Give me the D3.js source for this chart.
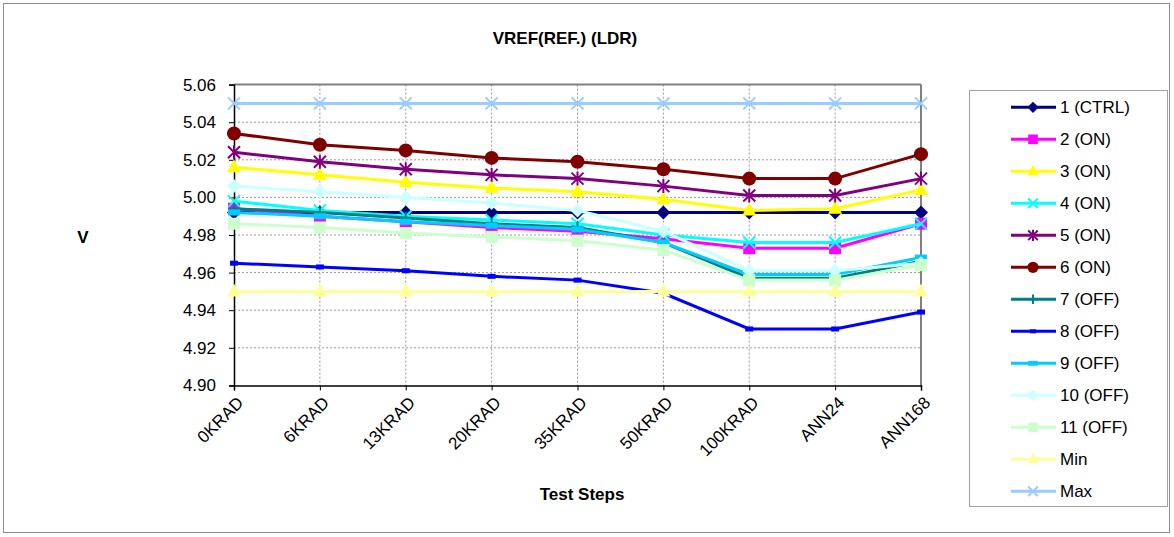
<!DOCTYPE html>
<html><head><meta charset="utf-8">
<script src="https://cdn.jsdelivr.net/npm/d3@7"></script>
<style>body{margin:0;background:#fff}svg{display:block;font-family:Arial,"Liberation Sans",sans-serif}</style>
</head><body><svg id="c" width="1174" height="537"></svg>
<script>
const categories = ["0KRAD","6KRAD","13KRAD","20KRAD","35KRAD","50KRAD","100KRAD","ANN24","ANN168"];
const yTicks = [4.90,4.92,4.94,4.96,4.98,5.00,5.02,5.04,5.06];
const seriesNames = ["1 (CTRL)","2 (ON)","3 (ON)","4 (ON)","5 (ON)","6 (ON)","7 (OFF)","8 (OFF)","9 (OFF)","10 (OFF)","11 (OFF)","Min","Max"];
const s1  = [4.992,4.992,4.992,4.992,4.992,4.992,4.992,4.992,4.992];
const s2  = [4.994,4.990,4.987,4.984,4.982,4.978,4.973,4.973,4.986];
const s3  = [5.016,5.012,5.008,5.005,5.003,4.999,4.993,4.994,5.004];
const s4  = [4.998,4.993,4.990,4.988,4.986,4.980,4.976,4.976,4.986];
const s5  = [5.024,5.019,5.015,5.012,5.010,5.006,5.001,5.001,5.010];
const s6  = [5.034,5.028,5.025,5.021,5.019,5.015,5.010,5.010,5.023];
const s7  = [4.994,4.992,4.989,4.986,4.984,4.976,4.957,4.957,4.966];
const s8  = [4.965,4.963,4.961,4.958,4.956,4.949,4.930,4.930,4.939];
const s9  = [4.992,4.990,4.987,4.985,4.983,4.976,4.959,4.959,4.968];
const s10 = [5.006,5.003,5.000,4.997,4.993,4.982,4.961,4.961,4.965];
const s11 = [4.986,4.984,4.981,4.979,4.977,4.972,4.956,4.956,4.964];
const sMin = [4.95,4.95,4.95,4.95,4.95,4.95,4.95,4.95,4.95];
const sMax = [5.05,5.05,5.05,5.05,5.05,5.05,5.05,5.05,5.05];
const seriesValues = [s1,s2,s3,s4,s5,s6,s7,s8,s9,s10,s11,sMin,sMax];
const colors = ["#000080","#FF00FF","#FFFF00","#00FFFF","#800080","#800000","#008080","#0000FF","#00CCFF","#CCFFFF","#CCFFCC","#FFFF99","#99CCFF"];
const markers = ["diamond","square","triangle","x","star","circle","plus","dash","bar","diamond","square","triangle","x"];

const svg = d3.select("#c");
const L = 234, R = 921, T = 84.6, B = 385.4;
const FS = 17;
const x = d3.scalePoint().domain(categories).range([L, R]);
const y = d3.scaleLinear().domain([4.90, 5.06]).range([B, T]);

svg.append("rect").attr("x",3.5).attr("y",3.5).attr("width",1166).attr("height",529)
  .attr("fill","#fff").attr("stroke","#8c8c8c");

const g = svg.append("g");
g.selectAll(".hg").data(yTicks.slice(1,-1)).enter().append("line")
  .attr("x1",L).attr("x2",R).attr("y1",d=>y(d)).attr("y2",d=>y(d))
  .attr("stroke","#999").attr("stroke-dasharray","2,2");
g.selectAll(".vg").data(categories.slice(1,-1)).enter().append("line")
  .attr("x1",d=>x(d)).attr("x2",d=>x(d)).attr("y1",T).attr("y2",B)
  .attr("stroke","#999").attr("stroke-dasharray","2,2");
svg.append("line").attr("x1",L).attr("x2",R).attr("y1",T).attr("y2",T).attr("stroke","#808080").attr("stroke-width",2);
svg.append("line").attr("x1",R).attr("x2",R).attr("y1",T).attr("y2",B).attr("stroke","#808080").attr("stroke-width",2);

const yAxis = d3.axisLeft(y).tickValues(yTicks).tickFormat(d3.format(".2f")).tickSize(5).tickPadding(13);
const ya = svg.append("g").attr("transform",`translate(${L},0)`).call(yAxis);
ya.select(".domain").attr("stroke","#000").attr("stroke-width",1.5);
ya.selectAll("text").attr("font-size",FS).attr("fill","#000").attr("font-family","Arial, Liberation Sans, sans-serif");
const xAxis = d3.axisBottom(x).tickSize(5).tickFormat("");
const xa = svg.append("g").attr("transform",`translate(0,${B})`).call(xAxis);
xa.select(".domain").attr("stroke","#000").attr("stroke-width",1.5);
svg.append("g").selectAll("text").data(categories).enter().append("text")
  .attr("transform",d=>`translate(${x(d)+2},${B+10}) rotate(-45)`)
  .attr("text-anchor","end").attr("dy","0.7em").attr("font-size",FS).text(d=>d);

svg.append("text").attr("x",565).attr("y",44).attr("text-anchor","middle").attr("font-weight","bold").attr("font-size",FS).text("VREF(REF.) (LDR)");
svg.append("text").attr("x",582).attr("y",500).attr("text-anchor","middle").attr("font-weight","bold").attr("font-size",FS).text("Test Steps");
svg.append("text").attr("x",83).attr("y",243).attr("text-anchor","middle").attr("font-weight","bold").attr("font-size",FS).text("V");

function drawMarker(sel, type, color, cx, cy, s) {
  s = s || 1;
  if (type === "diamond") sel.append("path").attr("d",`M${cx},${cy-7*s}L${cx+7*s},${cy}L${cx},${cy+7*s}L${cx-7*s},${cy}Z`).attr("fill",color);
  else if (type === "square") sel.append("rect").attr("x",cx-6*s).attr("y",cy-6*s).attr("width",12*s).attr("height",12*s).attr("fill",color);
  else if (type === "triangle") sel.append("path").attr("d",`M${cx},${cy-8*s}L${cx+7*s},${cy+5*s}L${cx-7*s},${cy+5*s}Z`).attr("fill",color);
  else if (type === "circle") sel.append("circle").attr("cx",cx).attr("cy",cy).attr("r",7*s).attr("fill",color);
  else if (type === "x") sel.append("path").attr("d",`M${cx-6*s},${cy-6*s}L${cx+6*s},${cy+6*s}M${cx-6*s},${cy+6*s}L${cx+6*s},${cy-6*s}`).attr("stroke",color).attr("stroke-width",2);
  else if (type === "star") sel.append("path").attr("d",`M${cx-6*s},${cy-6*s}L${cx+6*s},${cy+6*s}M${cx-6*s},${cy+6*s}L${cx+6*s},${cy-6*s}M${cx},${cy-7*s}L${cx},${cy+7*s}`).attr("stroke",color).attr("stroke-width",2);
  else if (type === "plus") sel.append("path").attr("d",`M${cx},${cy-6*s}L${cx},${cy+6*s}M${cx-5*s},${cy}L${cx+5*s},${cy}`).attr("stroke",color).attr("stroke-width",2);
  else if (type === "dash") sel.append("rect").attr("x",cx-4*s).attr("y",cy-2.5*s).attr("width",8*s).attr("height",5*s).attr("fill",color);
  else if (type === "bar") sel.append("rect").attr("x",cx-6*s).attr("y",cy-3*s).attr("width",12*s).attr("height",6*s).attr("fill",color);
}

const line = d3.line().x((d,i)=>x(categories[i])).y(d=>y(d));
const plot = svg.append("g");
seriesValues.forEach((vals, k) => {
  const sg = plot.append("g");
  sg.append("path").datum(vals).attr("d",line).attr("fill","none").attr("stroke",colors[k]).attr("stroke-width",3);
  vals.forEach((v,i)=>drawMarker(sg, markers[k], colors[k], x(categories[i]), y(v)));
});

const lg = svg.append("g");
lg.append("rect").attr("x",969.5).attr("y",90.5).attr("width",198).attr("height",416).attr("fill","#fff").attr("stroke","#a0a0a0");
seriesNames.forEach((n,k)=>{
  const cy = 107.3 + k*32;
  lg.append("line").attr("x1",1011).attr("x2",1056).attr("y1",cy).attr("y2",cy).attr("stroke",colors[k]).attr("stroke-width",3);
  drawMarker(lg, markers[k], colors[k], 1033, cy, 0.8);
  lg.append("text").attr("x",1060).attr("y",cy).attr("dy","0.36em").attr("font-size",FS).text(n);
});
</script></body></html>
